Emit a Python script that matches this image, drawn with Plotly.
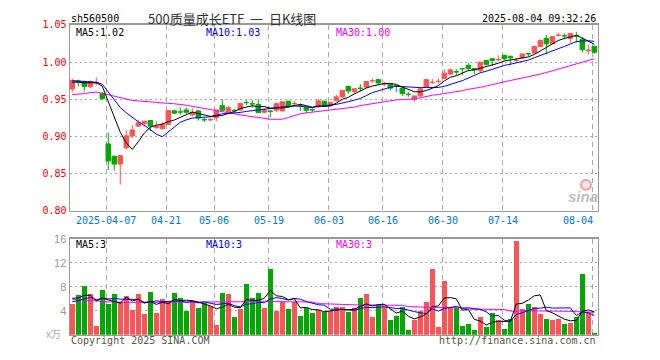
import plotly.graph_objects as go
import pandas as pd

W, H = 660, 360

dates = [
    "2025-03-27", "2025-03-28", "2025-03-31", "2025-04-01", "2025-04-02", "2025-04-03",
    "2025-04-07", "2025-04-08", "2025-04-09", "2025-04-10", "2025-04-11", "2025-04-14",
    "2025-04-15", "2025-04-16", "2025-04-17", "2025-04-18", "2025-04-21", "2025-04-22",
    "2025-04-23", "2025-04-24", "2025-04-25", "2025-04-28", "2025-04-29", "2025-04-30",
    "2025-05-06", "2025-05-07", "2025-05-08", "2025-05-09", "2025-05-12", "2025-05-13",
    "2025-05-14", "2025-05-15", "2025-05-16", "2025-05-19", "2025-05-20", "2025-05-21",
    "2025-05-22", "2025-05-23", "2025-05-26", "2025-05-27", "2025-05-28", "2025-05-29",
    "2025-05-30", "2025-06-03", "2025-06-04", "2025-06-05", "2025-06-06", "2025-06-09",
    "2025-06-10", "2025-06-11", "2025-06-12", "2025-06-13", "2025-06-16", "2025-06-17",
    "2025-06-18", "2025-06-19", "2025-06-20", "2025-06-23", "2025-06-24", "2025-06-25",
    "2025-06-26", "2025-06-27", "2025-06-30", "2025-07-01", "2025-07-02", "2025-07-03",
    "2025-07-04", "2025-07-07", "2025-07-08", "2025-07-09", "2025-07-10", "2025-07-11",
    "2025-07-14", "2025-07-15", "2025-07-16", "2025-07-17", "2025-07-18", "2025-07-21",
    "2025-07-22", "2025-07-23", "2025-07-24", "2025-07-25", "2025-07-28", "2025-07-29",
    "2025-07-30", "2025-07-31", "2025-08-01", "2025-08-04",
]

open_ = [
    0.9640, 0.9747, 0.9738, 0.9668, 0.9712, 0.9576, 0.8900, 0.8734, 0.8629, 0.8847,
    0.9009, 0.9140, 0.9179, 0.9214, 0.9118, 0.9105, 0.9162, 0.9345, 0.9332, 0.9357,
    0.9291, 0.9344, 0.9230, 0.9222, 0.9256, 0.9414, 0.9335, 0.9353, 0.9357, 0.9458,
    0.9440, 0.9431, 0.9326, 0.9344, 0.9353, 0.9344, 0.9475, 0.9440, 0.9418, 0.9392,
    0.9362, 0.9401, 0.9475, 0.9414, 0.9479, 0.9532, 0.9672, 0.9606, 0.9650, 0.9663,
    0.9747, 0.9764, 0.9703, 0.9707, 0.9685, 0.9650, 0.9568, 0.9501, 0.9545, 0.9663,
    0.9724, 0.9738, 0.9781, 0.9838, 0.9873, 0.9913, 0.9956, 0.9913, 0.9882, 1.0022,
    1.0044, 1.0030, 1.0092, 1.0079, 1.0022, 1.0057, 1.0114, 1.0122, 1.0210, 1.0319,
    1.0245, 1.0359, 1.0354, 1.0319, 1.0354, 1.0306, 1.0153, 1.0210,
]
high = [
    0.9780, 0.9764, 0.9751, 0.9751, 0.9795, 0.9598, 0.9052, 0.8747, 0.8747, 0.9083,
    0.9153, 0.9227, 0.9210, 0.9214, 0.9205, 0.9192, 0.9349, 0.9362, 0.9389, 0.9388,
    0.9379, 0.9357, 0.9256, 0.9248, 0.9357, 0.9501, 0.9414, 0.9366, 0.9453, 0.9488,
    0.9488, 0.9501, 0.9379, 0.9344, 0.9458, 0.9475, 0.9475, 0.9475, 0.9444, 0.9401,
    0.9379, 0.9501, 0.9475, 0.9466, 0.9563, 0.9628, 0.9685, 0.9650, 0.9703, 0.9738,
    0.9781, 0.9773, 0.9738, 0.9707, 0.9694, 0.9663, 0.9598, 0.9545, 0.9663, 0.9773,
    0.9773, 0.9781, 0.9904, 0.9913, 0.9904, 0.9913, 0.9991, 0.9913, 1.0000, 1.0026,
    1.0044, 1.0092, 1.0092, 1.0079, 1.0052, 1.0114, 1.0127, 1.0219, 1.0306, 1.0363,
    1.0350, 1.0394, 1.0385, 1.0385, 1.0407, 1.0332, 1.0232, 1.0219,
]
low = [
    0.9600, 0.9672, 0.9607, 0.9651, 0.9686, 0.9485, 0.8550, 0.8541, 0.8354, 0.8821,
    0.8978, 0.9127, 0.9127, 0.9074, 0.9109, 0.9092, 0.9153, 0.9301, 0.9293, 0.9300,
    0.9270, 0.9213, 0.9195, 0.9204, 0.9204, 0.9335, 0.9313, 0.9318, 0.9344, 0.9423,
    0.9388, 0.9313, 0.9313, 0.9256, 0.9326, 0.9335, 0.9396, 0.9405, 0.9344, 0.9313,
    0.9326, 0.9388, 0.9401, 0.9401, 0.9475, 0.9519, 0.9576, 0.9570, 0.9606, 0.9663,
    0.9720, 0.9707, 0.9676, 0.9619, 0.9598, 0.9545, 0.9532, 0.9466, 0.9532, 0.9654,
    0.9707, 0.9707, 0.9773, 0.9825, 0.9825, 0.9825, 0.9882, 0.9838, 0.9860, 0.9956,
    0.9947, 1.0009, 1.0022, 0.9956, 0.9995, 1.0044, 1.0079, 1.0114, 1.0201, 1.0101,
    1.0245, 1.0341, 1.0306, 1.0262, 1.0262, 1.0131, 1.0101, 1.0114,
]
close = [
    0.9751, 0.9729, 0.9672, 0.9738, 0.9729, 0.9511, 0.8672, 0.8629, 0.8742, 0.9009,
    0.9087, 0.9183, 0.9205, 0.9140, 0.9140, 0.9162, 0.9349, 0.9314, 0.9327, 0.9326,
    0.9326, 0.9248, 0.9222, 0.9230, 0.9357, 0.9353, 0.9388, 0.9344, 0.9444, 0.9453,
    0.9436, 0.9322, 0.9357, 0.9335, 0.9440, 0.9466, 0.9396, 0.9444, 0.9414, 0.9353,
    0.9357, 0.9480, 0.9414, 0.9458, 0.9532, 0.9619, 0.9611, 0.9641, 0.9646, 0.9738,
    0.9751, 0.9720, 0.9707, 0.9650, 0.9672, 0.9576, 0.9563, 0.9545, 0.9641, 0.9764,
    0.9729, 0.9742, 0.9851, 0.9895, 0.9865, 0.9908, 0.9913, 0.9895, 1.0000, 0.9969,
    1.0022, 1.0035, 1.0044, 1.0057, 1.0026, 1.0109, 1.0109, 1.0210, 1.0289, 1.0245,
    1.0341, 1.0363, 1.0350, 1.0385, 1.0350, 1.0166, 1.0162, 1.0131,
]
# closes of the days just before the visible window (for the MA5 / MA10 lines)
pre_close = [0.978, 0.977, 0.977, 0.976, 0.978, 0.971, 0.973, 0.973, 0.972]

ma30 = [
    0.9563, 0.9568, 0.9576, 0.9590, 0.9596, 0.9580, 0.9560, 0.9540, 0.9520, 0.9495,
    0.9485, 0.9478, 0.9470, 0.9462, 0.9455, 0.9450, 0.9445, 0.9440, 0.9432, 0.9420,
    0.9405, 0.9390, 0.9375, 0.9355, 0.9340, 0.9330, 0.9318, 0.9305, 0.9290, 0.9278,
    0.9270, 0.9258, 0.9240, 0.9232, 0.9230, 0.9232, 0.9255, 0.9285, 0.9305, 0.9318,
    0.9328, 0.9333, 0.9338, 0.9350, 0.9362, 0.9372, 0.9380, 0.9395, 0.9415, 0.9428,
    0.9440, 0.9452, 0.9470, 0.9488, 0.9492, 0.9495, 0.9497, 0.9505, 0.9520, 0.9540,
    0.9554, 0.9565, 0.9575, 0.9588, 0.9600, 0.9615, 0.9635, 0.9645, 0.9660, 0.9678,
    0.9700, 0.9718, 0.9735, 0.9752, 0.9768, 0.9780, 0.9800, 0.9820, 0.9838, 0.9860,
    0.9885, 0.9905, 0.9925, 0.9950, 0.9975, 0.9998, 1.0025, 1.0045,
]

volume = [
    5.2, 6.6, 8.2, 6.8, 1.5, 7.4, 5.2, 6.8, 5.5, 6.4,
    4.2, 6.8, 3.4, 7.2, 3.7, 5.9, 5.7, 7.0, 6.2, 4.0,
    5.6, 4.4, 5.3, 4.8, 1.6, 6.9, 6.8, 2.9, 4.3, 8.5,
    6.1, 7.0, 4.5, 10.9, 4.0, 5.5, 4.3, 5.4, 3.2, 4.4,
    3.7, 4.1, 3.8, 4.0, 4.6, 4.6, 3.8, 4.4, 6.1, 6.8,
    2.9, 5.0, 4.6, 2.4, 3.1, 4.6, 0.7, 2.4, 4.0, 5.5,
    10.9, 1.2, 9.0, 4.4, 4.5, 1.4, 1.8, 0.7, 3.0, 1.2,
    3.7, 2.5, 1.0, 2.7, 15.7, 4.3, 5.2, 4.6, 3.4, 2.7,
    2.4, 2.7, 1.8, 2.0, 3.0, 10.1, 3.8, 0.2,
]
pre_volume = [4.8, 5.0, 4.6, 5.2, 4.9, 6.5, 6.0, 6.6, 6.2]

vol_ma30 = [
    5.9, 5.9, 5.8, 5.7, 5.6, 5.6, 5.5, 5.45, 5.4, 5.4,
    5.4, 5.4, 5.4, 5.4, 5.4, 5.4, 5.45, 5.45, 5.45, 5.45,
    5.45, 5.45, 5.45, 5.45, 5.45, 5.5, 5.5, 5.5, 5.5, 5.55,
    5.6, 5.6, 5.6, 5.55, 5.5, 5.5, 5.5, 5.5, 5.5, 5.5,
    5.45, 5.2, 5.15, 5.15, 5.15, 5.1, 4.96, 4.96, 4.96, 4.96,
    4.96, 4.96, 4.96, 4.96, 4.96, 4.9, 4.7, 4.64, 4.64, 4.6,
    4.55, 4.53, 4.53, 4.6, 4.6, 4.5, 4.27, 4.27, 4.27, 4.27,
    4.27, 4.27, 4.2, 3.95, 3.9, 4.0, 4.0, 4.0, 4.0, 4.0,
    3.9, 3.9, 3.9, 3.9, 3.85, 3.8, 3.75, 3.75,
]

tick_dates = ["2025-04-07", "2025-04-21", "2025-05-06", "2025-05-19", "2025-06-03",
              "2025-06-16", "2025-06-30", "2025-07-14", "2025-08-04"]
tick_labels = ["2025-04-07", "04-21", "05-06", "05-19", "06-03", "06-16", "06-30", "07-14", "08-04"]
price_ticks = [0.80, 0.85, 0.90, 0.95, 1.00, 1.05]
vol_ticks = [4, 8, 12, 16]

title_code = "sh560500"
title_name = "500质量成长ETF  一  日K线图"
timestamp = "2025-08-04 09:32:26"

# ---------------------------------------------------------------
n = len(dates)
xs = list(range(n))
RED, GREEN = "#ff5555", "#00a800"
MONO = "DejaVu Sans Mono"

ma5 = pd.Series(pre_close + close).rolling(5).mean().tolist()[len(pre_close):]
ma10 = pd.Series(pre_close + close).rolling(10).mean().tolist()[len(pre_close):]
vma5 = pd.Series(pre_volume + volume).rolling(5).mean().tolist()[len(pre_volume):]
vma10 = pd.Series(pre_volume + volume).rolling(10).mean().tolist()[len(pre_volume):]

up = [c >= o for o, c in zip(open_, close)]

fig = go.Figure()

# wicks
for flag, col in ((True, RED), (False, GREEN)):
    wx, wy = [], []
    for i in xs:
        if up[i] == flag:
            wx += [i, i, None]
            wy += [low[i], high[i], None]
    fig.add_trace(go.Scatter(x=wx, y=wy, mode="lines", line=dict(color=col, width=1),
                             xaxis="x", yaxis="y", hoverinfo="skip"))

# bodies
for flag, col in ((True, RED), (False, GREEN)):
    idx = [i for i in xs if up[i] == flag]
    fig.add_trace(go.Bar(
        x=idx,
        base=[min(open_[i], close[i]) for i in idx],
        y=[abs(close[i] - open_[i]) for i in idx],
        width=0.75, marker=dict(color=col, line=dict(color=col, width=1)),
        xaxis="x", yaxis="y"))

# price MAs
for series, col in ((ma30, "#ff00ff"), (ma10, "#0000ff"), (ma5, "#000000")):
    fig.add_trace(go.Scatter(x=xs, y=series, mode="lines", line=dict(color=col, width=1),
                             xaxis="x", yaxis="y"))

# volume bars
for flag, col in ((True, RED), (False, GREEN)):
    idx = [i for i in xs if up[i] == flag]
    fig.add_trace(go.Bar(x=idx, y=[volume[i] for i in idx], width=0.8,
                         marker=dict(color=col, line=dict(width=0)),
                         xaxis="x2", yaxis="y2"))

for series, col in ((vol_ma30, "#ff00ff"), (vma10, "#0000ff"), (vma5, "#000000")):
    fig.add_trace(go.Scatter(x=xs, y=series, mode="lines", line=dict(color=col, width=1),
                             xaxis="x2", yaxis="y2"))

tickpos = [dates.index(d) - 0.3 for d in tick_dates]

x0p, x1p = 70 / W, 597.5 / W
xrange_ = [-0.38, 87.53]
main_dom = [1 - 212 / H, 1 - 19.5 / H]
vol_dom = [1 - 340 / H, 1 - 241 / H]

axis_common = dict(showline=True, mirror=True, linecolor="#999999", linewidth=1.5,
                   zeroline=False, fixedrange=True)

fig.update_layout(
    width=W, height=H,
    margin=dict(l=0, r=0, t=0, b=0),
    paper_bgcolor="white", plot_bgcolor="white",
    showlegend=False, barmode="overlay", bargap=0,
    xaxis=dict(domain=[x0p, x1p], range=xrange_, tickvals=tickpos, showticklabels=False,
               showgrid=True, gridcolor="#aaaaaa", griddash="5px,4px", gridwidth=1,
               anchor="y", **axis_common),
    yaxis=dict(domain=main_dom, range=[0.80, 1.05], tickvals=price_ticks,
               ticktext=[f"{v:.2f}" for v in price_ticks],
               tickfont=dict(family=MONO, size=10, color="#ff0000"),
               showgrid=True, gridcolor="#aaaaaa", griddash="2px,3px", gridwidth=1,
               anchor="x", ticks="", **axis_common),
    xaxis2=dict(domain=[x0p, x1p], range=xrange_, tickvals=tickpos, showticklabels=False,
                showgrid=True, gridcolor="#aaaaaa", griddash="5px,4px", gridwidth=1,
                anchor="y2", **axis_common),
    yaxis2=dict(domain=vol_dom, range=[0, 16], tickvals=vol_ticks,
                tickfont=dict(family="Liberation Sans", size=11, color="#999999"),
                showgrid=True, gridcolor="#aaaaaa", griddash="2px,3px", gridwidth=1,
                anchor="x2", ticks="", **axis_common),
)


def ann(text, x, y, color="#000", size=10, family=MONO, xanchor="left", xref="paper", **kw):
    fig.add_annotation(text=text, x=x, y=y, xref=xref, yref="paper", showarrow=False,
                       xanchor=xanchor, yanchor="middle",
                       font=dict(family=family, size=size, color=color), **kw)


# header
ann(title_code, 69 / W, 1 - 13 / H, color="#000", size=10)
ann(title_name, 232 / W, 1 - 13 / H, color="#333", size=13,
    family="Noto Sans CJK SC", xanchor="center")
ann(timestamp, 598 / W, 1 - 13 / H, color="#000", size=10, xanchor="right")

# MA legends
last = n - 1
ann(f"MA5:{ma5[last]:.2f}", 74 / W, 1 - 27 / H, color="#000000")
ann(f"MA10:{ma10[last]:.2f}", 204 / W, 1 - 27 / H, color="#0000ff")
ann(f"MA30:{ma30[last]:.2f}", 334 / W, 1 - 27 / H, color="#ff00ff")
ann(f"MA5:{int(vma5[last])}", 74 / W, 1 - 247 / H, color="#000000")
ann(f"MA10:{int(vma10[last])}", 204 / W, 1 - 247 / H, color="#0000ff")
ann(f"MA30:{int(vol_ma30[last])}", 334 / W, 1 - 247 / H, color="#ff00ff")

# x tick labels
for d, lab in zip(tick_dates, tick_labels):
    i = dates.index(d)
    if d == tick_dates[-1]:
        ann(lab, i + 0.15, 1 - 222 / H, color="#0078d7", xanchor="right", xref="x")
    else:
        ann(lab, i - 0.3, 1 - 222 / H, color="#0078d7", xanchor="center", xref="x")

# unit + footer
ann("x万", 63 / W, 1 - 339 / H, color="#aaaaaa", size=10, family="Noto Sans CJK SC",
    xanchor="right")
ann("Copyright 2025 SINA.COM", 69 / W, 1 - 346 / H, color="#555555")
ann("http://finance.sina.com.cn", 598 / W, 1 - 346 / H, color="#555555", xanchor="right")

# sina watermark
ann("<b><i>sina</i></b>", 583 / W, 1 - 197 / H, color="#c0c0c0", size=15,
    family="Liberation Sans", xanchor="center")
fig.add_shape(type="circle", xref="paper", yref="paper",
              x0=581 / W, x1=591 / W, y0=1 - 190 / H, y1=1 - 180 / H,
              line=dict(color="#f4a0a0", width=2), fillcolor="rgba(255,200,200,0.5)")

fig.write_html("out.html", config={"displayModeBar": False, "staticPlot": True},
               post_script="document.body.style.margin='0px';")
